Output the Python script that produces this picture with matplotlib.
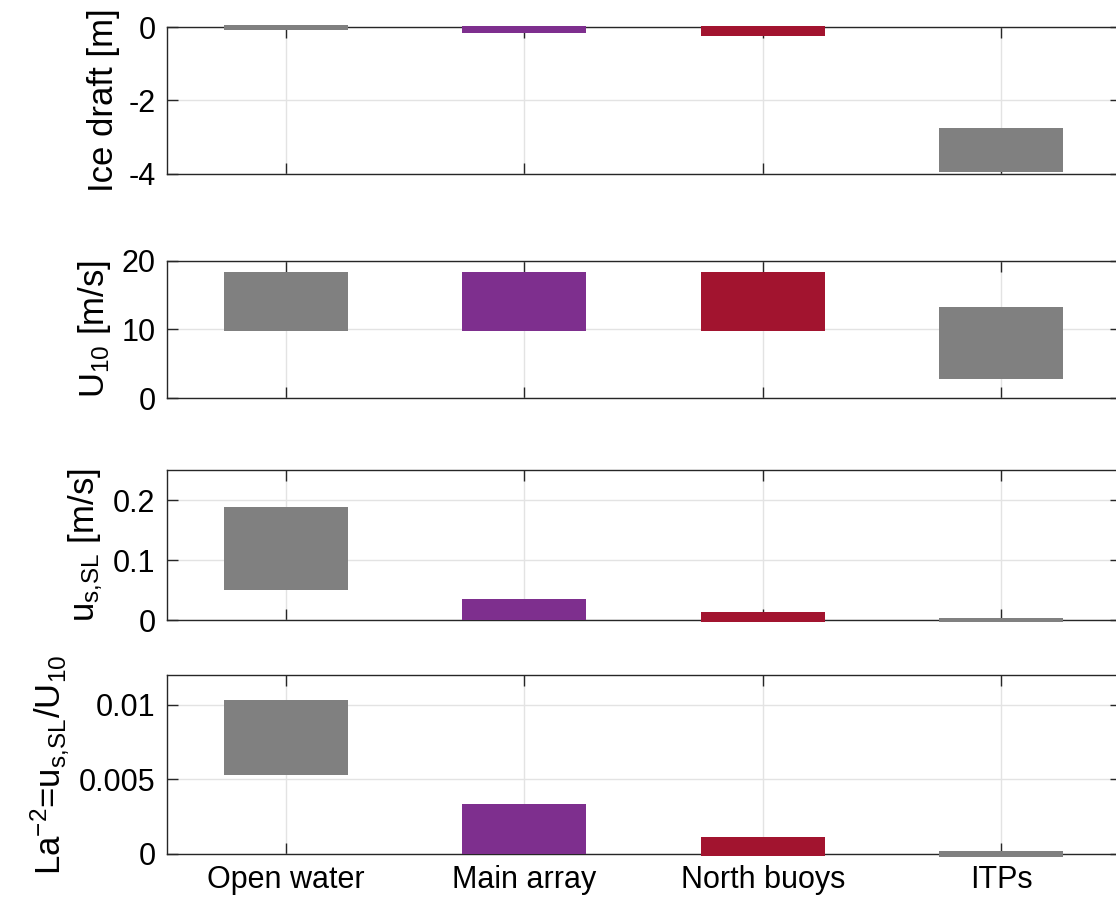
import matplotlib
matplotlib.use("Agg")
import matplotlib.pyplot as plt

plt.rcParams['font.family'] = ['Liberation Sans', 'DejaVu Sans']
plt.rcParams['mathtext.default'] = 'regular'

categories = ["Open water", "Main array", "North buoys", "ITPs"]
colors = ["#808080", "#7E2F8E", "#A2142F", "#808080"]

ice_low = [-0.07, -0.15, -0.25, -3.95]
ice_high = [0.07, 0.04, 0.04, -2.75]

u10_low = [9.8, 9.8, 9.8, 2.7]
u10_high = [18.3, 18.3, 18.3, 13.3]

us_low = [0.051, 0.0, -0.003, -0.002]
us_high = [0.188, 0.036, 0.014, 0.004]

la_low = [0.00529, 0.0, -0.00015, -0.0002]
la_high = [0.01033, 0.00335, 0.00114, 0.00016]

panels = [
    (ice_low, ice_high, "Ice draft [m]", (-4, 0), [-4, -2, 0], ["-4", "-2", "0"]),
    (u10_low, u10_high, "U$_{10}$ [m/s]", (0, 20), [0, 10, 20], ["0", "10", "20"]),
    (us_low, us_high, "u$_{s{,}SL}$ [m/s]", (0, 0.25), [0, 0.1, 0.2], ["0", "0.1", "0.2"]),
    (la_low, la_high, "La$^{-2}$=u$_{s{,}SL}$/U$_{10}$", (0, 0.012), [0, 0.005, 0.01], ["0", "0.005", "0.01"]),
]

W, H = 1116, 906
fig = plt.figure(figsize=(W / 100, H / 100), dpi=100)
# (top, bottom) in pixels
pix = [(27.3, 173.7), (260.7, 398.0), (470.0, 620.3), (675.0, 853.7)]
left_px, right_px = 166.7, 1120.6

x = list(range(1, len(categories) + 1))
fs = 22
lfs = 25
for i, ((lo, hi, ylab, ylim, yt, ytl), (t, b)) in enumerate(zip(panels, pix)):
    ax = fig.add_axes([left_px / W, 1 - b / H, (right_px - left_px) / W, (b - t) / H])
    heights = [h - l for l, h in zip(lo, hi)]
    ax.bar(x, heights, bottom=lo, width=0.52, color=colors, edgecolor='none',
           zorder=5, clip_on=False)
    ax.set_xlim(0.5, 4.5)
    ax.set_ylim(*ylim)
    ax.set_yticks(yt)
    ax.set_yticklabels(ytl)
    ax.set_xticks(x)
    if i == 3:
        ax.set_xticklabels(categories)
    else:
        ax.set_xticklabels([])
    ax.set_ylabel(ylab, fontsize=lfs, labelpad=6)
    ax.grid(True, color='#e3e3e3', linewidth=1.0, zorder=0)
    ax.set_axisbelow(True)
    ax.tick_params(direction='in', length=8, width=1.0, colors='#262626',
                   labelsize=fs, top=True, right=True, labelcolor='black', pad=8)
    for s in ax.spines.values():
        s.set_color('#262626')
        s.set_linewidth(1.0)
        s.set_zorder(4)

fig.savefig("out.png", dpi=100)
